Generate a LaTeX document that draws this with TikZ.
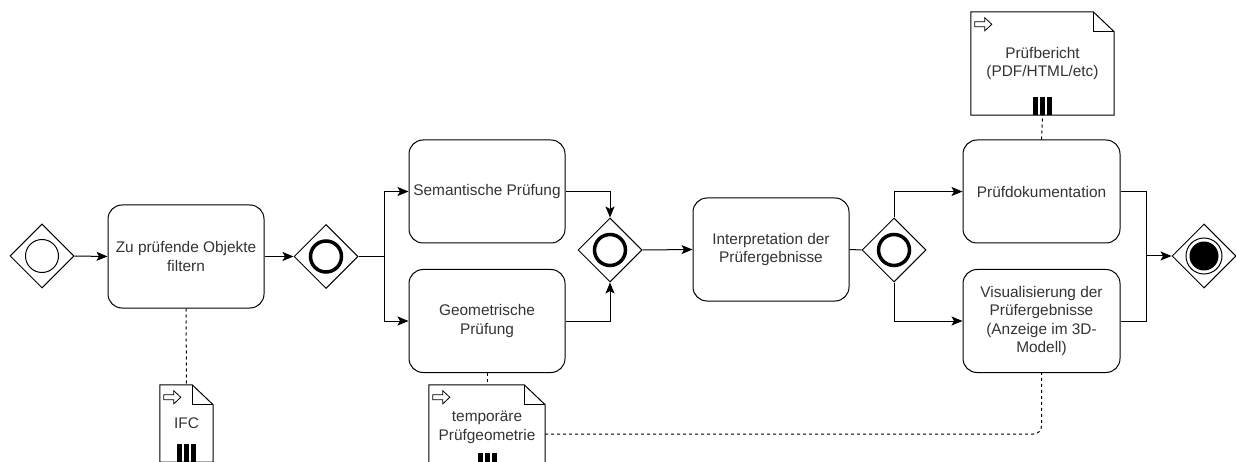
\documentclass[tikz,border=0pt]{standalone}
\usepackage{fontspec}
\setmainfont{Liberation Sans}
\usetikzlibrary{shapes.geometric,arrows.meta}
\definecolor{txt}{HTML}{333333}
\tikzset{
  lbl/.style={text=txt, align=center, font=\fontsize{15.4}{18.5}\selectfont},
  task/.style={lbl, draw, rounded corners=14pt, minimum width=156pt, minimum height=103pt, line width=1pt, inner sep=2pt},
  gw/.style={draw, diamond, minimum width=64pt, minimum height=64pt, inner sep=0pt, line width=1pt},
  ring/.style={draw, circle, inner sep=0pt, line width=1pt},
  thickring/.style={draw, circle, inner sep=0pt, line width=3.5pt, minimum size=31pt},
  flow/.style={line width=1pt, -{Stealth[length=11pt,width=9pt,inset=2.5pt]}},
  plain/.style={line width=1pt},
  assoc/.style={line width=1pt, dash pattern=on 3pt off 3pt},
  dataobj/.style={lbl, inner sep=0pt},
}
\newcommand\docshape[1]{%
  \draw[line width=1pt] (#1.north west) -- ([xshift=-21pt]#1.north east) -- ([yshift=-20pt]#1.north east) -- (#1.south east) -- (#1.south west) -- cycle;
  \draw[line width=1pt] ([xshift=-21pt]#1.north east) -- ++(0,20) -- ([yshift=-20pt]#1.north east);
  \draw[line width=0.8pt] ([shift={(4pt,-6pt)}]#1.north west) ++(0,4) -- ++(10,0) -- ++(0,-4) -- ++(7,6.5) -- ++(-7,6.5) -- ++(0,-4) -- ++(-10,0) -- cycle;
  \fill ([xshift=-9.5pt]#1.south) rectangle ++(5,-18);
  \fill ([xshift=-2.5pt]#1.south) rectangle ++(5,-18);
  \fill ([xshift=4.5pt]#1.south) rectangle ++(5,-18);
}
\begin{document}
\begin{tikzpicture}[x=1pt,y=-1pt]
\useasboundingbox (0,0) rectangle (1236,462);
\clip (0,0) rectangle (1236,462);

% gateways
\node[gw] (g1) at (42,256) {};
\node[ring, minimum size=33pt] (g1c) at (g1) {};
\node[gw] (g2) at (326,256.5) {};
\node[thickring] (g2c) at (g2) {};
\node[gw] (g3) at (610,250) {};
\node[thickring] (g3c) at (g3) {};
\node[gw] (g4) at (894,250) {};
\node[thickring] (g4c) at (g4) {};
\node[gw] (g5) at (1204,256) {};
\node[ring, minimum size=36pt] (g5c) at (g5) {};
\node[circle, fill=black, inner sep=0pt, minimum size=29pt] (g5d) at (g5) {};

% tasks
\node[task] (t1) at (186,256.5) {Zu prüfende Objekte\\filtern};
\node[task] (sem) at (487,191.5) {Semantische Prüfung};
\node[task] (geo) at (487,321) {Geometrische\\Prüfung};
\node[task] (interp) at (771,249.5) {Interpretation der\\Prüfergebnisse};
\node[task, minimum width=157pt] (dok) at (1041.5,191.5) {Prüfdokumentation};
\node[task, minimum width=157pt] (vis) at (1041.5,321) {Visualisierung der\\Prüfergebnisse\\(Anzeige im 3D-\\Modell)};

% data objects
\node[dataobj, minimum width=53pt, minimum height=77pt] (ifc) at (186.5,423.5) {IFC};
\node[dataobj, minimum width=116pt, minimum height=86pt, text depth=5pt] (tmp) at (487,428) {temporäre\\Prüfgeometrie};
\node[dataobj, minimum width=143pt, minimum height=103pt] (pb) at (1042.5,63.5) {Prüfbericht\\(PDF/HTML/etc)};
\docshape{ifc}
\docshape{tmp}
\docshape{pb}

% sequence flows
\draw[flow] (g1.east) -- (t1.west);
\draw[flow] (t1.east) -- (g2.west);
\draw[flow] (g2.east) -- ++(26,0) |- (sem.west);
\draw[flow] (g2.east) -- ++(26,0) |- (geo.west);
\draw[flow] (sem.east) -| (g3.north);
\draw[flow] (geo.east) -| (g3.south);
\draw[flow] (g3.east) -- (interp.west);
\draw[plain] (interp.east) -- (g4.west);
\draw[flow] (g4.north) |- (dok.west);
\draw[flow] (g4.south) |- (vis.west);
\coordinate (j) at (1146,256);
\draw[plain] (dok.east) -| (j);
\draw[plain] (vis.east) -| (j);
\draw[flow] (j) -- (g5.west);

% associations
\draw[assoc] (t1.south) -- (ifc.north);
\draw[assoc] (geo.south) -- (tmp.north);
\draw[assoc] (dok.north) -- (pb.south);
\draw[assoc, rounded corners=8pt] ([yshift=-6pt]tmp.east) -| (vis.south);
\end{tikzpicture}
\end{document}
